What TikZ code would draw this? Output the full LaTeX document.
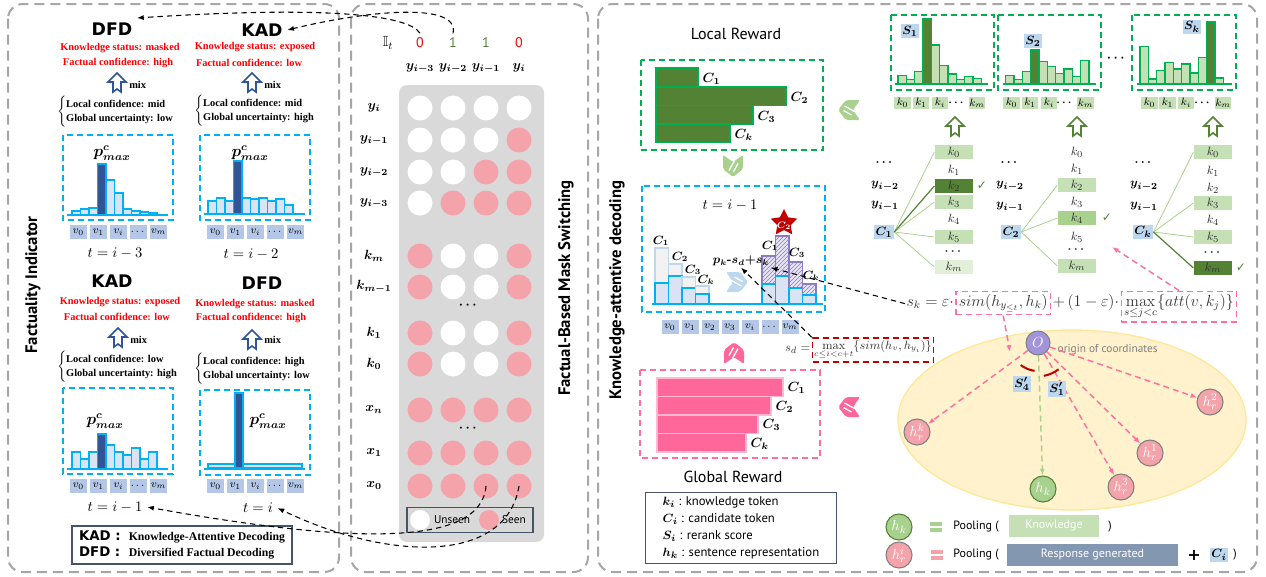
\documentclass[tikz,border=0pt]{standalone}
\usepackage[no-math]{fontspec}
\usepackage{amsmath,amssymb,bm}
\usetikzlibrary{positioning,shapes.geometric,patterns,arrows.meta,calc}
\newfontfamily\tmsfont{Liberation Serif}
\newfontfamily\dinfont{PT Sans}
\newfontfamily\heavyfont{DejaVu Sans}
\newfontfamily\symfont{DejaVu Sans}

\definecolor{panelgray}{HTML}{A6A6A6}
\definecolor{cyanline}{HTML}{00B0F0}
\definecolor{barfill}{HTML}{DAE3F3}
\definecolor{bardark}{HTML}{2F5597}
\definecolor{tokblue}{HTML}{B4C7E7}
\definecolor{arrowblue}{HTML}{2F5597}
\definecolor{seenpink}{HTML}{F4A3AB}
\definecolor{matgray}{HTML}{D9D9D9}
\definecolor{dashgreen}{HTML}{00B050}
\definecolor{leafdark}{HTML}{548235}
\definecolor{leaflight}{HTML}{C5E0B4}
\definecolor{leafmid}{HTML}{A9D18E}
\definecolor{leafpale}{HTML}{E2F0D9}
\definecolor{rewardpink}{HTML}{FF6699}
\definecolor{dashpink}{HTML}{FF6F9F}
\definecolor{dashred}{HTML}{C00000}
\definecolor{hatchpurple}{HTML}{8E7CC3}
\definecolor{ellfill}{HTML}{FFF2CC}
\definecolor{elldraw}{HTML}{FFE699}
\definecolor{originpurple}{HTML}{A294DB}
\definecolor{labelblue}{HTML}{BDD7EE}
\definecolor{respblue}{HTML}{8497B0}
\definecolor{formgray}{HTML}{333333}
\definecolor{legendgray}{HTML}{44546A}

\tikzset{
  panel/.style={draw=panelgray, line width=1.5pt, dash pattern=on 7.5pt off 4.5pt, rounded corners=11pt},
  vtitle/.style={rotate=90, font=\dinfont\bfseries\fontsize{12.5}{15}\selectfont},
  kadtxt/.style={font=\heavyfont\bfseries\fontsize{13}{15}\selectfont},
  redtxt/.style={text=red, font=\tmsfont\bfseries\fontsize{7.8}{9}\selectfont, inner sep=0pt},
  conftxt/.style={font=\tmsfont\bfseries\fontsize{7.8}{10.5}\selectfont, inner sep=0pt, anchor=west},
  cyanbox/.style={draw=cyanline, line width=1.2pt, dash pattern=on 4.5pt off 3pt},
  greenbox/.style={draw=dashgreen, line width=1.2pt, dash pattern=on 4.5pt off 3pt},
  pinkbox/.style={draw=dashpink, line width=1.2pt, dash pattern=on 4.5pt off 3pt},
  histbar/.style={draw=cyanline, fill=barfill, line width=0.9pt},
  histdark/.style={draw=cyanline, fill=bardark, line width=0.9pt},
  greybar/.style={draw=labelblue, fill=gray!10, line width=0.9pt},
  hatchbar/.style={draw=hatchpurple, line width=0.9pt, preaction={fill=hatchpurple!20}, pattern=north east lines, pattern color=hatchpurple},
  basecyan/.style={draw=cyanline, line width=1pt},
  tokbox/.style={fill=tokblue, minimum width=12.75pt, minimum height=10.5pt, inner sep=0pt, font=\fontsize{8}{9}\selectfont},
  steplab/.style={font=\fontsize{11}{13}\selectfont},
  pmaxlab/.style={font=\fontsize{12}{14}\selectfont},
  dotw/.style={circle, fill=white, minimum size=18.75pt, inner sep=0pt},
  dots/.style={circle, fill=seenpink, minimum size=18.75pt, inner sep=0pt},
  rowlab/.style={font=\fontsize{10}{12}\selectfont},
  clab/.style={font=\fontsize{10}{12}\selectfont, inner sep=1pt},
  lrbar/.style={fill=leafdark, draw=dashgreen, line width=1pt},
  grbar/.style={fill=rewardpink, draw=rewardpink!45, line width=0.8pt},
  sbar/.style={draw=dashgreen, fill=leaflight, line width=0.9pt},
  sdark/.style={draw=dashgreen, fill=leafdark, line width=0.9pt},
  slab/.style={fill=labelblue, inner sep=1.2pt, font=\fontsize{9.5}{11}\selectfont},
  ktok/.style={fill=leaflight, minimum width=12.4pt, minimum height=9pt, inner sep=0pt, font=\fontsize{8}{9}\selectfont},
  kplain/.style={minimum width=29pt, minimum height=10.5pt, inner sep=0pt, text=formgray, font=\fontsize{9.5}{11}\selectfont},
  kbox/.style={kplain, fill=leaflight},
  kmid/.style={kplain, fill=leafmid},
  kpale/.style={kplain, fill=leafpale},
  kdark/.style={kplain, fill=leafdark},
  ylab/.style={font=\fontsize{9.5}{11}\selectfont},
  twig/.style={draw=leafmid, line width=0.6pt},
  twigdark/.style={draw=leafdark, line width=0.9pt},
  chk/.style={text=leafdark, font=\symfont\bfseries\fontsize{9}{10}\selectfont},
  blkarr/.style={draw=black, line width=0.8pt, dash pattern=on 4pt off 3pt, -{Latex[length=5pt]}},
  pinkarr/.style={draw=dashpink, line width=1.1pt, dash pattern=on 4.5pt off 3pt, -{Latex[length=5pt]}},
  greenarr/.style={draw=leafmid, line width=1.1pt, dash pattern=on 4.5pt off 3pt, -{Latex[length=5pt]}},
  formtxt/.style={text=formgray, inner sep=1pt},
  orgnode/.style={circle, fill=originpurple, draw=gray, line width=0.8pt, minimum size=18pt, inner sep=0pt, text=white, font=\fontsize{11}{13}\selectfont},
  respnode/.style={circle, fill=seenpink, draw=gray, line width=0.8pt, minimum size=19.5pt, inner sep=0pt, text=white, font=\fontsize{11}{13}\selectfont},
  knownode/.style={circle, fill=leafmid, draw=leafdark, line width=0.8pt, minimum size=19.5pt, inner sep=0pt, text=white, font=\fontsize{11}{13}\selectfont},
  eqsign/.style={minimum width=9pt, minimum height=7pt, inner sep=0pt, path picture={
      \fill[#1] (path picture bounding box.north west) rectangle ([yshift=-2.5pt]path picture bounding box.north east);
      \fill[#1] ([yshift=2.5pt]path picture bounding box.south west) rectangle (path picture bounding box.south east);}},
  pooltxt/.style={font=\dinfont\fontsize{9}{11}\selectfont, anchor=west, inner sep=0pt},
  pics/hollowup/.style={code={
      \draw[pic actions, fill=white, line width=1.2pt, line join=miter]
        (0,-10) -- (9,-1) -- (4,-1) -- (4,9) -- (0,6) -- (-4,9) -- (-4,-1) -- (-9,-1) -- cycle;}},
  pics/chevron/.style={code={
      \fill[pic actions, rounded corners=1.5pt] (-10,-11) -- (0,-4) -- (10,-11) -- (10,3) -- (0,11) -- (-10,3) -- cycle;
      \draw[white, line width=1pt] (-4,4.5) -- (1.5,-5.5) (0.5,5.5) -- (5,-2.5);}}
}

\begin{document}
\begin{tikzpicture}[x=0.75pt,y=-0.75pt]
\useasboundingbox (0,0) rectangle (1266,576);

% ---------------- factuality indicator ----------------
\draw[panel] (8,4) rectangle (339,572);
\node[vtitle] (ftitle) at (33,285) {Factuality Indicator};

% t = i-3
\node[kadtxt] (dfdA) at (112,29) {DFD};
\node[redtxt] (ksA) at (120,48) {Knowledge status: masked};
\node[redtxt] (fcA) at (118,63) {Factual confidence: high};
\pic[draw=arrowblue] at (117,83) {hollowup};
\node[conftxt] (mixA) at (129,85) {mix};
\node[conftxt] (lcA) at (57,112) {$\left\{\begin{array}{@{}l@{}}\text{Local confidence: mid}\\ \text{Global uncertainty: low}\end{array}\right.$};
\draw[cyanbox] (63,135) rectangle (173,220);
\node[pmaxlab] (pmA) at (112,153) {$\bm{p^{c}_{max}}$};
\foreach \h/\s [count=\n from 0] in {4/histbar,6/histbar,7/histbar,51/histdark,35/histbar,22/histbar,6/histbar,4/histbar,3/histbar,2/histbar}
  \draw[\s] (72+8.5*\n,215) rectangle ++(8.5,-\h);
\draw[basecyan] (67,215) -- (168,215);
\foreach \lab [count=\n from 0] in {v_0,v_1,v_i,\cdots,v_m}
  \node[tokbox] (vA\n) at (78.5+20*\n,232) {$\lab$};
\node[steplab] (tA) at (115,253) {$t=i-3$};

% t = i-2
\node[kadtxt] (kadB) at (262,30) {KAD};
\node[redtxt] (ksB) at (255,47) {Knowledge status: exposed};
\node[redtxt] (fcB) at (249,63) {Factual confidence: low};
\pic[draw=arrowblue] at (252,83) {hollowup};
\node[conftxt] (mixB) at (264,85) {mix};
\node[conftxt] (lcB) at (194,111) {$\left\{\begin{array}{@{}l@{}}\text{Local confidence: mid}\\ \text{Global uncertainty: high}\end{array}\right.$};
\draw[cyanbox] (200,135) rectangle (310,220);
\node[pmaxlab] (pmB) at (250,153) {$\bm{p^{c}_{max}}$};
\foreach \h/\s [count=\n from 0] in {13/histbar,16/histbar,13/histbar,53/histdark,16/histbar,15/histbar,16/histbar,13/histbar,15/histbar,9/histbar}
  \draw[\s] (208+8.5*\n,214) rectangle ++(8.5,-\h);
\draw[basecyan] (204,214) -- (305,214);
\foreach \lab [count=\n from 0] in {v_0,v_1,v_i,\cdots,v_m}
  \node[tokbox] (vB\n) at (215.5+20*\n,232) {$\lab$};
\node[steplab] (tB) at (251,254) {$t=i-2$};

% t = i-1
\node[kadtxt] (kadC) at (112,281) {KAD};
\node[redtxt] (ksC) at (120,302) {Knowledge status: exposed};
\node[redtxt] (fcC) at (117,317) {Factual confidence: low};
\pic[draw=arrowblue] at (118,338) {hollowup};
\node[conftxt] (mixC) at (130,340) {mix};
\node[conftxt] (lcC) at (57,367) {$\left\{\begin{array}{@{}l@{}}\text{Local confidence: low}\\ \text{Global uncertainty: high}\end{array}\right.$};
\draw[cyanbox] (63,388) rectangle (173,474);
\node[pmaxlab] (pmC) at (105,421) {$\bm{p^{c}_{max}}$};
\foreach \h/\s [count=\n from 0] in {17/histbar,10/histbar,17/histbar,35/histdark,24/histbar,17/histbar,14/histbar,21/histbar,10/histbar,17/histbar}
  \draw[\s] (72+8.5*\n,469) rectangle ++(8.5,-\h);
\draw[basecyan] (67,469) -- (168,469);
\foreach \lab [count=\n from 0] in {v_0,v_1,v_i,\cdots,v_m}
  \node[tokbox] (vC\n) at (78.5+20*\n,486) {$\lab$};
\node[steplab] (tC) at (115,507) {$t=i-1$};

% t = i
\node[kadtxt] (dfdD) at (262,283) {DFD};
\node[redtxt] (ksD) at (255,304) {Knowledge status: masked};
\node[redtxt] (fcD) at (251,318) {Factual confidence: high};
\pic[draw=arrowblue] at (252,340) {hollowup};
\node[conftxt] (mixD) at (264,340) {mix};
\node[conftxt] (lcD) at (194,369) {$\left\{\begin{array}{@{}l@{}}\text{Local confidence: high}\\ \text{Global uncertainty: low}\end{array}\right.$};
\draw[cyanbox] (200,390) rectangle (310,475);
\node[pmaxlab] (pmD) at (268,421) {$\bm{p^{c}_{max}}$};
\draw[histbar] (208,468) rectangle (302,464);
\draw[histdark] (235,468) rectangle (243,393);
\draw[basecyan] (204,469) -- (305,469);
\foreach \lab [count=\n from 0] in {v_0,v_1,v_i,\cdots,v_m}
  \node[tokbox] (vD\n) at (215.5+20*\n,486) {$\lab$};
\node[steplab] (tD) at (258,508) {$t=i$};

\node[draw=legendgray, line width=0.8pt, minimum width=165pt, minimum height=28.5pt, inner sep=2pt] (abbr) at (182,545)
  {\fontsize{8.8}{12}\selectfont\begin{tabular}{@{}l@{\ \ }l@{}}
   {\heavyfont\bfseries\fontsize{10}{12}\selectfont KAD :} & {\tmsfont\bfseries Knowledge-Attentive Decoding}\\
   {\heavyfont\bfseries\fontsize{10}{12}\selectfont DFD :} & {\tmsfont\bfseries Diversified Factual Decoding}
   \end{tabular}};

% ---------------- mask switching ----------------
\draw[panel] (351,4) rectangle (588,572);
\node[font=\fontsize{11}{13}\selectfont] (ilab) at (388,43) {$\mathbb{I}_t$};
\foreach \v/\c/\xx [count=\n] in {0/red/420,1/leafdark/453,1/leafdark/486,0/red/519}
  \node[text=\c, font=\dinfont\fontsize{10.5}{12}\selectfont] (hv\n) at (\xx,43) {\v};
\foreach \lab/\xx [count=\n] in {y_{i-3}/420,y_{i-2}/453,y_{i-1}/486,y_i/519}
  \node[rowlab] (cl\n) at (\xx,68) {$\bm{\lab}$};
\fill[matgray, rounded corners=6pt] (399,85) rectangle (544,542);
\foreach \lab/\yy/\a/\b/\c/\d [count=\r] in {y_i/108/w/w/w/w, y_{i-1}/140/w/w/w/s, y_{i-2}/172/w/w/s/s, y_{i-3}/203/w/s/s/s,
    k_m/256/s/w/w/s, k_{m-1}/287/s/w/w/s, k_1/333/s/w/w/s, k_0/364/s/w/w/s,
    x_n/410/s/s/s/s, x_1/453/s/s/s/s, x_0/486/s/s/s/s}
{
  \node[rowlab] (rl\r) at (374,\yy) {$\bm{\lab}$};
  \node[dot\a] (m\r-1) at (420,\yy) {};
  \node[dot\b] (m\r-2) at (453,\yy) {};
  \node[dot\c] (m\r-3) at (486,\yy) {};
  \node[dot\d] (m\r-4) at (519,\yy) {};
}
\node[rowlab] (gapK) at (469,305) {$\bm{\cdots}$};
\node[rowlab] (gapX) at (469,428) {$\bm{\cdots}$};
\node[draw=legendgray, line width=0.9pt, minimum width=94.5pt, minimum height=18.75pt, inner sep=0pt] (mleg) at (470,520) {};
\node[dotw, minimum size=15pt] (legw) at (420,520) {};
\node[font=\dinfont\fontsize{8.5}{10}\selectfont] (legwt) at (452,520) {Unseen};
\node[dots, minimum size=15pt] (legs) at (489,520) {};
\node[font=\dinfont\fontsize{8.5}{10}\selectfont] (legst) at (514,520) {Seen};
\node[vtitle] (mtitle) at (566,288) {Factual-Based Mask Switching};

% switching links
\draw[blkarr] (hv1.north) .. controls (408,14) and (320,6) .. (dfdA.north east);
\draw[blkarr] (hv2.north) .. controls (460,2) and (370,10) .. (kadB.east);
\draw[blkarr] (m11-3.center) .. controls (481,552) and (330,540) .. (tC.east);
\draw[blkarr] (m11-4.center) .. controls (506,566) and (385,560) .. (tD.east);

% ---------------- knowledge-attentive decoding ----------------
\draw[panel] (598,4) rectangle (1257,572);
\node[vtitle] (rtitle) at (617,290) {Knowledge-attentive decoding};

% local reward
\node[font=\dinfont\fontsize{12}{14}\selectfont] (lrTitle) at (736,34) {Local Reward};
\draw[greenbox] (641,60) rectangle (823,150);
\foreach \w/\yy/\lab [count=\n] in {42/68/C_1,130/87/C_2,97/105.5/C_3,74/124/C_k}
{
  \draw[lrbar] (656,\yy) rectangle ++(\w,18.75);
  \node[clab, anchor=west] (lr\n) at (659+\w,\yy+11) {$\bm{\lab}$};
}
\pic[fill=leafmid] at (733,166) {chevron};
\pic[fill=leafmid, rotate=-90] at (849,110) {chevron};

% reranking at t = i-1
\draw[cyanbox] (642,186) rectangle (825,312);
\node[steplab] (tE) at (730,205) {$t=i-1$};
\foreach \gt/\bt [count=\n from 0] in {248/283,264/276,277/288,286/294}
{
  \draw[greybar] (655+13.5*\n,304) rectangle (668.5+13.5*\n,\gt);
  \draw[histbar] (655+13.5*\n,304) rectangle (668.5+13.5*\n,\bt);
}
\foreach \gt/\bt [count=\n from 0] in {256/284,236/276,262/288,284/295}
{
  \draw[hatchbar] (762+13.5*\n,304) rectangle (775.5+13.5*\n,\gt);
  \draw[histbar] (762+13.5*\n,304) rectangle (775.5+13.5*\n,\bt);
}
\draw[basecyan] (652,304) -- (823,304);
\foreach \lab/\xx/\yy [count=\n] in {C_1/661/241,C_2/680/257,C_3/693/270,C_k/706/280,C_1/770/246,C_3/797/253,C_k/811/276}
  \node[clab, font=\fontsize{9}{11}\selectfont] (rr\n) at (\xx,\yy) {$\bm{\lab}$};
\node[star, star points=5, star point ratio=2.0, fill=dashred, minimum size=21pt, inner sep=0pt] (star) at (784,223) {};
\node[text=white, font=\fontsize{7.5}{9}\selectfont, inner sep=0pt] (starlab) at (784,226) {$\bm{C_2}$};
\node[font=\fontsize{9}{11}\selectfont, inner sep=1pt] (pklab) at (741,261) {$\bm{p_k}$\textbf{-}$\bm{s_d}$\textbf{+}$\bm{s_k}$};
\pic[fill=labelblue, rotate=90] at (737,282) {chevron};
\foreach \lab [count=\n from 0] in {v_0,v_1,v_2,v_3,v_i,\cdots,v_m}
  \node[tokbox] (vE\n) at (670+20*\n,327) {$\lab$};

% global reward
\pic[fill=rewardpink, rotate=180] at (734,353) {chevron};
\draw[pinkbox] (640,370) rectangle (820,458);
\foreach \w/\yy/\lab [count=\n] in {126/378/C_1,114/396.5/C_2,101/415/C_3,89/433.5/C_k}
{
  \draw[grbar] (657,\yy) rectangle ++(\w,18.5);
  \node[clab, anchor=west] (gr\n) at (660+\w,\yy+10) {$\bm{\lab}$};
}
\node[font=\dinfont\fontsize{12}{14}\selectfont] (grTitle) at (733,477) {Global Reward};
\pic[fill=rewardpink, rotate=-90] at (849,407) {chevron};
\node[draw=legendgray, line width=0.9pt, anchor=north west, minimum width=143pt, minimum height=53pt, align=left, inner sep=3pt,
      font=\dinfont\fontsize{9.5}{12.75}\selectfont] (gloss) at (645,492)
  {$\bm{k_i}$ : knowledge token\\ $\bm{C_i}$ : candidate token\\ $\bm{S_i}$ : rerank score\\ $\bm{h_k}$ : sentence representation};

% scores
\node[formtxt, draw=dashred, line width=1.2pt, dash pattern=on 4.5pt off 3pt, minimum width=90.75pt, minimum height=18pt,
      font=\fontsize{9}{11}\selectfont] (sdbox) at (873,350) {$\max\limits_{c\le i<c+t}\{sim(h_v,h_{y_i})\}$};
\node[formtxt, anchor=east, font=\fontsize{9.5}{11}\selectfont] (sdlab) at (sdbox.west) {$s_d=$};
\node[formtxt, anchor=base west, font=\fontsize{12}{14}\selectfont] (sk1) at (905,306) {$s_k=\varepsilon\cdot$};
\node[formtxt, pinkbox, anchor=base west, font=\fontsize{12}{14}\selectfont, inner sep=2pt] (sksim) at (sk1.base east) {$sim(h_{y_{\le t}},h_k)$};
\node[formtxt, anchor=base west, font=\fontsize{12}{14}\selectfont] (sk2) at (sksim.base east) {$+\,(1-\varepsilon)\cdot$};
\node[formtxt, pinkbox, anchor=base west, font=\fontsize{12}{14}\selectfont, inner sep=2pt] (skmax) at (sk2.base east) {$\max\limits_{s\le j<c}\{att(v,k_j)\}$};
\draw[blkarr] (sk1.west) -- (pklab.south east);
\draw[blkarr] (sdbox.north west) -- (pklab.south);

% representation space
\draw[fill=ellfill, draw=elldraw, line width=1pt] (1072,420) ellipse [x radius=130.5pt, y radius=67.5pt];
\coordinate (ellTop) at (1010,352);
\coordinate (treeHit) at (1112,247);
\draw[pinkarr] (sksim.south) -- (ellTop);
\draw[pinkarr] (skmax.north) -- (treeHit);
\node[orgnode] (org) at (1038,343) {$O$};
\node[font=\dinfont\fontsize{8.5}{10}\selectfont, text=gray, anchor=west] (orgtxt) at (1053,350) {origin of coordinates};
\node[respnode] (hrk) at (917,432) {$h^{k}_{r}$};
\node[respnode] (hr3) at (1121,487) {$h^{3}_{r}$};
\node[respnode] (hr1) at (1150,453) {$h^{1}_{r}$};
\node[respnode] (hr2) at (1210,402) {$h^{2}_{r}$};
\node[knownode] (hk) at (1043,489) {$h_k$};
\foreach \t in {hrk,hr3,hr1,hr2}
  \draw[pinkarr] (org) -- (\t);
\draw[greenarr] (org) -- (hk);
\draw[dashred, line width=1.5pt] ($(org.center)+(-128:21pt)$) arc[start angle=-128, end angle=-97, radius=21pt];
\draw[dashred, line width=1.5pt] ($(org.center)+(-80:25pt)$) arc[start angle=-80, end angle=-52, radius=25pt];
\node[slab] (sq4) at (1022,384) {$\bm{S'_4}$};
\node[slab] (sq1) at (1057,389) {$\bm{S'_1}$};

% pooling legend
\node[knownode] (lgk) at (899,527) {$h_k$};
\node[eqsign=leafmid] (eqk) at (936,527) {};
\node[pooltxt] (plk) at (953,527) {Pooling (};
\node[fill=leaflight, text=white, minimum width=67.5pt, minimum height=16.5pt, inner sep=0pt, font=\dinfont\fontsize{9}{11}\selectfont] (knowbox) at (1054,526) {Knowledge};
\node[pooltxt] (prk) at (1108,527) {)};
\node[respnode] (lgr) at (899,555) {$h^{i}_{r}$};
\node[eqsign=seenpink] (eqr) at (937,555) {};
\node[pooltxt] (plr) at (953,555) {Pooling (};
\node[fill=respblue, text=white, minimum width=128pt, minimum height=16.5pt, inner sep=0pt, font=\dinfont\fontsize{9}{11}\selectfont] (respbox) at (1092.5,555) {Response generated};
\node[font=\heavyfont\bfseries\fontsize{12}{14}\selectfont, inner sep=0pt] (plus) at (1194,555) {+};
\node[slab] (cibox) at (1219,555) {$\bm{C_i}$};
\node[pooltxt] (prr) at (1233,555) {)};

% knowledge rerank scores
\draw[greenbox] (891,15) rectangle (994,90);
\foreach \h/\s [count=\n from 0] in {8.3/sbar,4.3/sbar,12.7/sbar,65/sdark,39/sbar,18.7/sbar,10/sbar,4.3/sbar,7.7/sbar,5.3/sbar}
  \draw[\s] (898+8.33*\n,84) rectangle ++(8.33,-\h);
\draw[draw=dashgreen, line width=1pt] (895,84) -- (988,84);
\node[slab] (sA) at (910,31) {$\bm{S_1}$};
\draw[greenbox] (998,15) rectangle (1101,90);
\foreach \h/\s [count=\n from 0] in {8.7/sbar,4.3/sbar,12.7/sbar,34/sdark,22.7/sbar,17.7/sbar,10.3/sbar,15/sbar,7.7/sbar,23.3/sbar}
  \draw[\s] (1005.7+8.33*\n,84) rectangle ++(8.33,-\h);
\draw[draw=dashgreen, line width=1pt] (1003,84) -- (1096,84);
\node[slab] (sB) at (1033,41) {$\bm{S_2}$};
\node[rowlab] (sgap) at (1117,58) {$\bm{\cdots}$};
\draw[greenbox] (1132,15) rectangle (1236,90);
\foreach \h/\s [count=\n from 0] in {37.7/sbar,5/sbar,13.3/sbar,21.7/sbar,15/sbar,20/sbar,11/sbar,26.7/sbar,62/sdark,6/sbar}
  \draw[\s] (1140+8.33*\n,84) rectangle ++(8.33,-\h);
\draw[draw=dashgreen, line width=1pt] (1137,84) -- (1232,84);
\node[slab] (sC) at (1192,27) {$\bm{S_k}$};
\foreach \lab/\xx [count=\n] in {k_0/902.5,k_1/921,k_i/940,k_m/977,k_0/1011.5,k_1/1030,k_i/1049,k_m/1085.5,k_0/1149.5,k_1/1167.5,k_i/1186,k_m/1223}
  \node[ktok] (kt\n) at (\xx,103) {$\lab$};
\foreach \xx [count=\n] in {957,1065,1203}
  \node[font=\fontsize{8}{9}\selectfont] (ktgap\n) at (\xx,103) {$\bm{\cdots}$};
\pic[draw=leafdark] at (955,127) {hollowup};
\pic[draw=leafdark] at (1077,127) {hollowup};
\pic[draw=leafdark] at (1213,127) {hollowup};

% candidate C_1
\node[ylab] (dA) at (885,163) {$\bm{\cdots}$};
\node[ylab] (yA2) at (885,186) {$\bm{y_{i-2}}$};
\node[ylab] (yA1) at (885,206) {$\bm{y_{i-1}}$};
\node[slab] (cA) at (884,232) {$\bm{C_1}$};
\foreach \lab/\yy/\s [count=\n] in {k_0/152/kbox,k_1/170/kplain,k_2/186/kdark,k_3/202/kbox,k_4/219/kplain,k_5/237/kbox,\bm{\cdots}/252/kplain,k_m/267/kpale}
  \node[\s] (ta\n) at (954,\yy) {$\lab$};
\foreach \n in {1,4,6,8}
  \draw[twig] (cA.east) -- (ta\n.west);
\draw[twigdark] (cA.east) -- (ta3.west);
\node[chk] (chkA) at (982,186) {✓};

% candidate C_2
\node[ylab] (dB) at (1010,163) {$\bm{\cdots}$};
\node[ylab] (yB2) at (1010,186) {$\bm{y_{i-2}}$};
\node[ylab] (yB1) at (1010,207) {$\bm{y_{i-1}}$};
\node[slab] (cB) at (1011,232) {$\bm{C_2}$};
\foreach \lab/\yy/\s [count=\n] in {k_0/152/kplain,k_1/169/kplain,k_2/185/kbox,k_3/202/kplain,k_4/218/kmid,k_5/237/kplain,\bm{\cdots}/250/kplain,k_m/266/kbox}
  \node[\s] (tb\n) at (1077,\yy) {$\lab$};
\foreach \n in {3,5,8}
  \draw[twig] (cB.east) -- (tb\n.west);
\node[chk] (chkB) at (1107,218) {✓};

% candidate C_k
\node[ylab] (dC) at (1144,163) {$\bm{\cdots}$};
\node[ylab] (yC2) at (1144,186) {$\bm{y_{i-2}}$};
\node[ylab] (yC1) at (1144,207) {$\bm{y_{i-1}}$};
\node[slab] (cC) at (1143,232) {$\bm{C_k}$};
\foreach \lab/\yy/\s [count=\n] in {k_0/152/kbox,k_1/171/kplain,k_2/188/kplain,k_3/203/kbox,k_4/220/kplain,k_5/237/kbox,\bm{\cdots}/253/kplain,k_m/268/kdark}
  \node[\s] (tc\n) at (1213,\yy) {$\lab$};
\foreach \n in {1,4,6}
  \draw[twig] (cC.east) -- (tc\n.west);
\draw[twigdark] (cC.east) -- (tc8.west);
\node[chk] (chkC) at (1241,268) {✓};

\end{tikzpicture}
\end{document}
